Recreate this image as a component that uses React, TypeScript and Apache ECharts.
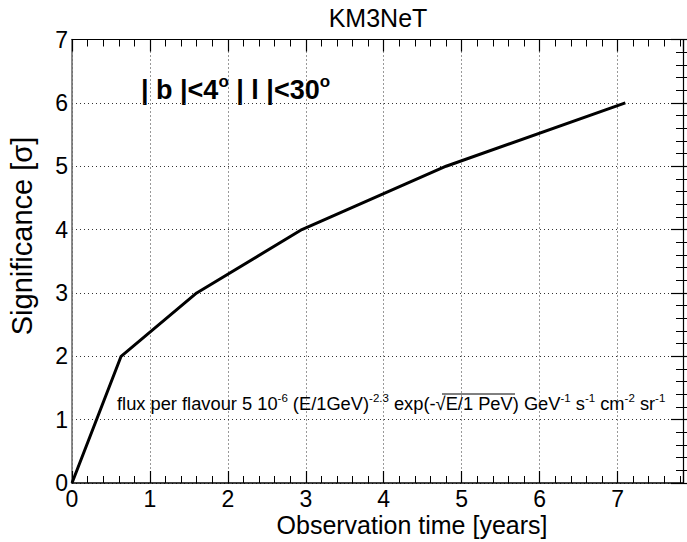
import React, { useEffect, useRef } from "react";
import * as echarts from "echarts";

const years = [0, 0.63, 1.6, 2.95, 4.8, 7.1];
const significance = [0, 2, 3, 4, 5, 6];
const xTicks = [0, 1, 2, 3, 4, 5, 6, 7];
const yTicks = [0, 1, 2, 3, 4, 5, 6, 7];
const titleText = "KM3NeT";
const xTitle = "Observation time [years]";
const yTitle = "Significance [σ]";

const FONT = "Liberation Sans, Arial, Helvetica, sans-serif";

export default function App() {
  const ref = useRef<HTMLDivElement>(null);
  useEffect(() => {
    if (!ref.current) return;
    document.body.style.overflow = "hidden";
    const chart = echarts.init(ref.current, null, { renderer: "svg" });
    const xMax = 7.84;
    const gl = 72, gr = 4, gt = 39.5, gb = 59;
    const pw = 687 - gl - gr;
    const ph = 542 - gt - gb;
    const intLabel = (list: number[]) => (v: number) =>
      list.indexOf(Math.round(v * 1000) / 1000) >= 0 ? String(v) : "";
    const tickAxis = (max: number, position: string, offset: number) => ({
      type: "value" as const,
      min: 0,
      max,
      interval: 1,
      position,
      offset,
      axisLine: { show: false },
      axisLabel: { show: false },
      splitLine: { show: false },
      axisTick: { show: true, inside: false, length: 12, lineStyle: { color: "#000", width: 1.2 } },
      minorTick: { show: true, splitNumber: 5, length: 7, lineStyle: { color: "#000", width: 1 } },
    });
    chart.setOption({
      animation: false,
      backgroundColor: "#fff",
      grid: { left: gl, right: gr, top: gt, bottom: gb, containLabel: false },
      xAxis: [
        {
          type: "value",
          min: 0,
          max: xMax,
          interval: 1,
          position: "bottom",
          axisLine: { show: true, onZero: false, lineStyle: { color: "#000", width: 1.5 } },
          axisTick: { show: false },
          axisLabel: {
            show: true,
            fontFamily: FONT,
            fontSize: 23,
            color: "#000",
            margin: 4,
            showMaxLabel: false,
            formatter: intLabel(xTicks),
          },
          splitLine: { show: true, lineStyle: { type: [1, 3], color: "#333", width: 1 } },
        },
        tickAxis(xMax, "top", -ph),
        {
          ...tickAxis(xMax, "bottom", -ph),
          axisLine: { show: true, onZero: false, lineStyle: { color: "#000", width: 1.2 } },
        },
      ],
      yAxis: [
        {
          type: "value",
          min: 0,
          max: 7,
          interval: 1,
          position: "left",
          axisLine: { show: true, onZero: false, lineStyle: { color: "#666", width: 1.5 } },
          axisTick: { show: false },
          axisLabel: {
            show: true,
            fontFamily: FONT,
            fontSize: 23,
            color: "#000",
            margin: 4,
            formatter: intLabel(yTicks),
          },
          splitLine: { show: true, lineStyle: { type: [1, 3], color: "#333", width: 1 } },
        },
        tickAxis(7, "right", -pw),
        {
          ...tickAxis(7, "left", -pw),
          axisLine: { show: true, onZero: false, lineStyle: { color: "#000", width: 1.2 } },
        },
      ],
      series: [
        {
          type: "line",
          xAxisIndex: 0,
          yAxisIndex: 0,
          data: years.map((x, i) => [x, significance[i]]),
          symbol: "none",
          lineStyle: { color: "#000", width: 3 },
        },
      ],
      graphic: [
        {
          type: "text",
          x: 378,
          y: 18,
          style: {
            text: titleText,
            fontFamily: FONT,
            fontSize: 25,
            fill: "#000",
            align: "center",
            verticalAlign: "middle",
          },
        },
        {
          type: "text",
          x: 22,
          y: 236,
          rotation: Math.PI / 2,
          style: {
            text: yTitle,
            fontFamily: FONT,
            fontSize: 29,
            fill: "#000",
            align: "center",
            verticalAlign: "middle",
          },
        },
        {
          type: "text",
          x: 412,
          y: 525,
          style: {
            text: xTitle,
            fontFamily: FONT,
            fontSize: 25,
            fill: "#000",
            align: "center",
            verticalAlign: "middle",
          },
        },
        {
          type: "text",
          x: 141,
          y: 88,
          style: {
            text: "{b|| b |<4}{o|o}{b| | l |<30}{o|o}",
            fontFamily: FONT,
            align: "left",
            verticalAlign: "middle",
            rich: {
              b: { fontFamily: FONT, fontSize: 27, fontWeight: "bold", fill: "#000", lineHeight: 30, verticalAlign: "bottom" },
              o: { fontFamily: FONT, fontSize: 17, fontWeight: "bold", fill: "#000", lineHeight: 30, verticalAlign: "top" },
            },
          },
        },
        {
          type: "text",
          x: 117,
          y: 402,
          style: {
            text:
              "{n|flux per flavour 5 10}{s|-6}{n| (E/1GeV)}{s|-2.3}{n| exp(-√E/1 PeV) GeV}{s|-1}{n| s}{s|-1}{n| cm}{s|-2}{n| sr}{s|-1}",
            fontFamily: FONT,
            fill: "#000",
            align: "left",
            verticalAlign: "middle",
            rich: {
              n: { fontFamily: FONT, fontSize: 18.3, fill: "#000", lineHeight: 20, verticalAlign: "bottom" },
              s: { fontFamily: FONT, fontSize: 11.5, fill: "#000", lineHeight: 20, verticalAlign: "top" },
            },
          },
        },
        {
          type: "line",
          shape: { x1: 442, y1: 394, x2: 515, y2: 394 },
          style: { stroke: "#000", lineWidth: 1 },
        },
      ],
    });
    return () => chart.dispose();
  }, []);
  return (
    <div
      ref={ref}
      style={{ position: "fixed", left: 0, top: 0, width: 687, height: 542, overflow: "hidden" }}
    />
  );
}
